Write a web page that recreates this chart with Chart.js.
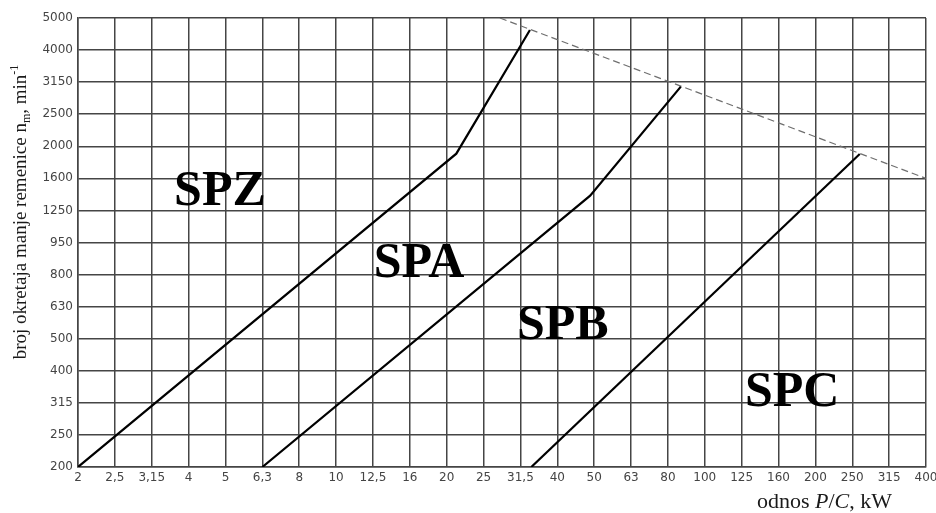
<!DOCTYPE html>
<html>
<head>
<meta charset="utf-8">
<title>Izbor profila remena</title>
<script src="https://cdn.jsdelivr.net/npm/chart.js@4.4.0/dist/chart.umd.min.js"></script>
<style>
    html, body { margin: 0; padding: 0; background: #fff; }
    canvas { display: block; }
</style>
</head>
<body>
<canvas id="myChart" width="936" height="513"></canvas>
<script>
// tick labels of the nomogram (equally spaced on the drawing)
const pcTicks = [2, 2.5, 3.15, 4, 5, 6.3, 8, 10, 12.5, 16, 20, 25, 31.5, 40, 50, 63, 80, 100, 125, 160, 200, 250, 315, 400]
const nTicks = [200, 250, 315, 400, 500, 630, 800, 950, 1250, 1600, 2000, 2500, 3150, 4000, 5000]

// boundary lines between profiles, P/C in kW and n in min-1
const zaPC = [2, 21.2, 33.5]
const zaN = [200, 1900, 4600]
const abPC = [6.3, 48.8, 86.5]
const abN = [200, 1400, 3050]
const bcPC = [33.8, 262]
const bcN = [200, 1895]
const limitPC = [27.7, 400]
const limitN = [5000, 1600]

const profiles = ['SPZ', 'SPA', 'SPB', 'SPC']

const tickFont = { family: 'DejaVu Sans', size: 12 }
const gridColor = '#454545'

// position of a value between two ticks of the drawing
function toIndex(value, ticks) {
    for (let i = 0; i < ticks.length - 1; i++) {
        if (value <= ticks[i + 1]) {
            return i + Math.log(value / ticks[i]) / Math.log(ticks[i + 1] / ticks[i])
        }
    }
    return ticks.length - 1
}

function toPoints(pcs, ns) {
    return pcs.map((pc, i) => ({ x: toIndex(pc, pcTicks), y: toIndex(ns[i], nTicks) }))
}

function boundary(pcs, ns) {
    return {
        data: toPoints(pcs, ns),
        showLine: true,
        borderColor: '#000',
        borderWidth: 2.2,
        pointRadius: 0,
        tension: 0
    }
}

// labels and axis titles, drawn on the canvas
const textPlugin = {
    id: 'nomogramText',
    afterDraw(chart) {
        const ctx = chart.ctx
        const x = chart.scales.x
        const y = chart.scales.y

        // profile names, placed in grid units
        const spots = [[3.85, 8.67], [9.25, 6.45], [13.15, 4.52], [19.37, 2.43]]
        ctx.save()
        ctx.fillStyle = '#000'
        ctx.font = 'bold 50px "Liberation Serif"'
        ctx.textAlign = 'center'
        ctx.textBaseline = 'alphabetic'
        profiles.forEach((name, i) => {
            const m = ctx.measureText(name)
            const cy = y.getPixelForValue(spots[i][1]) + m.actualBoundingBoxAscent / 2
            ctx.fillText(name, x.getPixelForValue(spots[i][0]), cy)
        })
        ctx.restore()

        // y title, rotated, with subscript and superscript
        ctx.save()
        ctx.fillStyle = '#1a1a1a'
        ctx.translate(26, 212)
        ctx.rotate(-Math.PI / 2)
        const big = '19px "Liberation Serif"'
        const small = '12px "Liberation Serif"'
        const parts = [
            ['broj okretaja manje remenice n', big, 0],
            ['m', small, 4],
            [', min', big, 0],
            ['-1', small, -8]
        ]
        let total = 0
        parts.forEach(p => { ctx.font = p[1]; total += ctx.measureText(p[0]).width })
        let pos = -total / 2
        ctx.textBaseline = 'alphabetic'
        parts.forEach(p => {
            ctx.font = p[1]
            ctx.fillText(p[0], pos, p[2])
            pos += ctx.measureText(p[0]).width
        })
        ctx.restore()

        // x title, under the right part of the axis
        ctx.save()
        ctx.fillStyle = '#1a1a1a'
        ctx.textBaseline = 'alphabetic'
        const xParts = [
            ['odnos ', '22px "Liberation Serif"'],
            ['P', 'italic 22px "Liberation Serif"'],
            ['/', '22px "Liberation Serif"'],
            ['C', 'italic 22px "Liberation Serif"'],
            [', kW', '22px "Liberation Serif"']
        ]
        let xPos = 757
        xParts.forEach(p => {
            ctx.font = p[1]
            ctx.fillText(p[0], xPos, 508)
            xPos += ctx.measureText(p[0]).width
        })
        ctx.restore()
    }
}

const chart = new Chart(document.querySelector('#myChart'), {
    type: 'scatter',
    data: {
        datasets: [
            boundary(zaPC, zaN),
            boundary(abPC, abN),
            boundary(bcPC, bcN),
            {
                data: toPoints(limitPC, limitN),
                showLine: true,
                borderColor: '#6e6e6e',
                borderWidth: 1.2,
                borderDash: [7, 4],
                pointRadius: 0
            }
        ]
    },
    options: {
        responsive: false,
        animation: false,
        layout: { padding: { top: 18, right: 10, left: 0, bottom: 0 } },
        plugins: {
            legend: { display: false },
            tooltip: { enabled: false }
        },
        scales: {
            x: {
                type: 'linear',
                min: 0,
                max: pcTicks.length - 1,
                afterFit: s => { s.height = 46; s.paddingLeft = 0; s.paddingRight = 0 },
                ticks: {
                    stepSize: 1,
                    autoSkip: false,
                    maxRotation: 0,
                    padding: 4,
                    color: '#444',
                    font: tickFont,
                    callback: v => String(pcTicks[Math.round(v)]).replace('.', ',')
                },
                grid: { color: gridColor, lineWidth: 1.5, drawTicks: false },
                border: { color: gridColor, width: 1.5 }
            },
            y: {
                type: 'linear',
                min: 0,
                max: nTicks.length - 1,
                afterFit: s => { s.width = 78; s.paddingTop = 0; s.paddingBottom = 0 },
                ticks: {
                    stepSize: 1,
                    autoSkip: false,
                    padding: 5,
                    color: '#444',
                    font: tickFont,
                    callback: v => String(nTicks[Math.round(v)])
                },
                grid: { color: gridColor, lineWidth: 1.5, drawTicks: false },
                border: { color: gridColor, width: 1.5 }
            }
        }
    },
    plugins: [textPlugin]
})
</script>
</body>
</html>
